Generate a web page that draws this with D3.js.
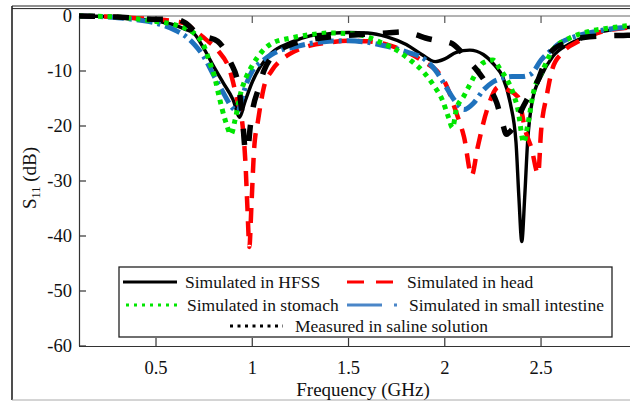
<!DOCTYPE html>
<html><head><meta charset="utf-8">
<script src="https://cdn.jsdelivr.net/npm/d3@7/dist/d3.min.js"></script>
<style>
html,body{margin:0;padding:0;background:#fff;}
svg{display:block;}
svg text{font-family:'Liberation Serif','DejaVu Serif',serif !important;fill:#111;}
</style></head>
<body>
<svg id="chart" width="630" height="403" font-family="Liberation Serif, DejaVu Serif, serif"></svg>
<script>
// ---- data ----
const xTicks = [0.5, 1, 1.5, 2, 2.5];
const yTicks = [0, -10, -20, -30, -40, -50, -60];
const seriesNames = ["Simulated in HFSS","Simulated in head","Simulated in stomach","Simulated in small intestine","Measured in saline solution"];

const hfssF = [0.1,0.2,0.3,0.4,0.5,0.6,0.65,0.7,0.75,0.8,0.85,0.9,0.935,0.96,1.0,1.04,1.1,1.2,1.3,1.4,1.5,1.6,1.7,1.8,1.88,1.95,2.0,2.06,2.13,2.2,2.26,2.3,2.34,2.37,2.385,2.4,2.415,2.43,2.455,2.5,2.56,2.64,2.7,2.8,2.9,3.0];
const hfssDb = [0,-0.05,-0.2,-0.5,-0.9,-1.7,-2.4,-3.3,-6,-9.2,-12.2,-15.2,-18.4,-15.8,-12,-9.3,-6.7,-4.8,-3.6,-3.2,-3,-3.1,-3.8,-5.2,-7,-8.3,-7.8,-6.6,-6.2,-7,-9,-11,-15.8,-23,-33,-41,-33,-23,-15.3,-11,-7.4,-5.2,-4.2,-3,-2.3,-1.9];

const headF = [0.1,0.2,0.3,0.4,0.5,0.6,0.66,0.71,0.76,0.82,0.886,0.92,0.95,0.965,0.975,0.985,0.995,1.01,1.03,1.06,1.1,1.15,1.2,1.3,1.4,1.5,1.6,1.7,1.8,1.9,1.96,2.0,2.06,2.1,2.14,2.17,2.22,2.28,2.33,2.38,2.42,2.45,2.485,2.5,2.53,2.56,2.61,2.7,2.8,2.9,3.0];
const headDb = [0,-0.05,-0.2,-0.4,-0.6,-1.0,-1.5,-2.9,-4.3,-6.2,-10.2,-15,-20,-27,-35,-42,-35,-24,-19,-13,-10,-8,-6.8,-5.4,-4.8,-4.5,-4.6,-5.2,-6.5,-8.5,-10,-12,-17.6,-22,-29,-24,-17,-12.9,-13.5,-14.7,-21,-24,-28.7,-21,-14.4,-9.5,-6.7,-4.5,-3,-2.3,-2];

const stomachF = [0.1,0.2,0.3,0.4,0.5,0.6,0.65,0.7,0.75,0.78,0.8,0.83,0.86,0.89,0.91,0.94,0.97,1.0,1.05,1.1,1.2,1.3,1.4,1.5,1.6,1.66,1.75,1.82,1.89,1.94,1.99,2.02,2.04,2.06,2.1,2.13,2.16,2.2,2.25,2.29,2.33,2.36,2.38,2.41,2.43,2.46,2.51,2.56,2.65,2.75,2.85,3.0];
const stomachDb = [0,-0.05,-0.2,-0.5,-1,-1.6,-2.2,-3.2,-5.5,-8.5,-10.5,-15,-19,-21.5,-19,-14,-11,-9,-6.5,-5,-4,-3.4,-3.1,-3.2,-3.8,-4.7,-6.2,-8,-10.2,-12.5,-15.5,-18.5,-20.3,-17,-14.5,-12.5,-10.5,-8.5,-8,-9.8,-12,-14.5,-17,-23,-20,-14,-9.8,-6.2,-4,-2.8,-2.2,-1.6];

const intestineF = [0.1,0.2,0.3,0.4,0.5,0.6,0.65,0.7,0.75,0.8,0.85,0.9,0.925,0.95,0.97,1.0,1.05,1.1,1.15,1.2,1.3,1.4,1.5,1.6,1.7,1.8,1.9,1.95,2.0,2.05,2.1,2.15,2.2,2.25,2.3,2.35,2.4,2.45,2.5,2.55,2.6,2.7,2.8,2.9,3.0];
const intestineDb = [0,-0.1,-0.3,-0.7,-1.3,-2.6,-3.6,-5.2,-7.5,-10.8,-14,-16.8,-17.3,-14.5,-12.3,-10,-8.3,-7,-6.2,-5.8,-5,-4.6,-4.5,-4.8,-5.5,-6.5,-8,-9.8,-12.5,-15.3,-17,-15.8,-13.5,-12,-11.3,-11,-11,-10.5,-8,-6.3,-4.9,-3.5,-2.7,-2.2,-2];

const salineF = [0.1,0.2,0.3,0.4,0.5,0.6,0.65,0.71,0.76,0.82,0.886,0.93,0.95,0.965,0.975,0.99,1.005,1.03,1.06,1.1,1.15,1.2,1.3,1.4,1.5,1.6,1.7,1.78,1.85,1.9,1.95,2.03,2.08,2.12,2.17,2.22,2.27,2.3,2.32,2.34,2.37,2.4,2.43,2.48,2.52,2.56,2.64,2.72,2.84,2.95,3.0];
const salineDb = [0,-0.05,-0.2,-0.4,-0.6,-0.6,-1.2,-3,-3.8,-4.6,-8.3,-13,-19,-24.5,-24.5,-20,-16.5,-13.5,-10,-7.5,-6,-5.2,-4.3,-3.8,-3.5,-3.3,-3.1,-2.9,-3.4,-4,-4.4,-4.9,-6.3,-8,-10,-12.5,-15.8,-19.5,-21.5,-21,-19.5,-17,-15,-12,-8.5,-6.2,-4.8,-3.9,-3.6,-3.5,-3.4];

// ---- layout ----
const FONT = "Liberation Serif, DejaVu Serif, serif";
const svg = d3.select("#chart");
const x = d3.scaleLinear().domain([0.1, 3]).range([79, 637.3]);
const y = d3.scaleLinear().domain([-60, 0]).range([346, 16]);

// figure border
svg.append("line").attr("x1",12).attr("x2",630).attr("y1",6).attr("y2",6).attr("stroke","#222").attr("stroke-width",1.2);
svg.append("line").attr("x1",12).attr("x2",630).attr("y1",8.6).attr("y2",8.6).attr("stroke","#222").attr("stroke-width",1);
svg.append("line").attr("x1",12).attr("x2",12).attr("y1",6).attr("y2",400).attr("stroke","#222").attr("stroke-width",1.6);
svg.append("line").attr("x1",12).attr("x2",630).attr("y1",400).attr("y2",400).attr("stroke","#aaa").attr("stroke-width",1);

svg.append("defs").append("clipPath").attr("id","clip")
  .append("rect").attr("x",79).attr("y",10).attr("width",560).attr("height",340);

// axes frame
const axisColor = "#333";
svg.append("line").attr("x1",79.5).attr("x2",79.5).attr("y1",16).attr("y2",346).attr("stroke",axisColor).attr("stroke-width",1.2);
svg.append("line").attr("x1",79).attr("x2",640).attr("y1",346.5).attr("y2",346.5).attr("stroke",axisColor).attr("stroke-width",1.2);
svg.append("line").attr("x1",79).attr("x2",640).attr("y1",16).attr("y2",16).attr("stroke","#666").attr("stroke-width",1);

function txt(sel){ return sel.attr("font-family",FONT).attr("fill","#111"); }

xTicks.forEach(t=>{
  svg.append("line").attr("x1",x(t)).attr("x2",x(t)).attr("y1",346).attr("y2",338).attr("stroke",axisColor).attr("stroke-width",1.2);
  svg.append("line").attr("x1",x(t)).attr("x2",x(t)).attr("y1",16).attr("y2",23).attr("stroke","#555").attr("stroke-width",1.2);
  txt(svg.append("text")).attr("x",x(t)).attr("y",374).attr("text-anchor","middle").attr("font-size",18.5).text(String(t));
});
yTicks.forEach(t=>{
  svg.append("line").attr("x1",79).attr("x2",86).attr("y1",y(t)).attr("y2",y(t)).attr("stroke",axisColor).attr("stroke-width",1.2);
  txt(svg.append("text")).attr("x",72).attr("y",y(t)).attr("dy","0.34em").attr("text-anchor","end").attr("font-size",18.5).text(t===0?"0":"-"+Math.abs(t));
});

// axis titles
txt(svg.append("text")).attr("x",363).attr("y",396).attr("text-anchor","middle").attr("font-size",19).text("Frequency (GHz)");
const yt = txt(svg.append("text")).attr("transform","translate(36,178) rotate(-90)").attr("text-anchor","middle").attr("font-size",19);
yt.append("tspan").text("S");
yt.append("tspan").attr("font-size",12.5).attr("dy",4).text("11");
yt.append("tspan").attr("dy",-4).text(" (dB)");

// series
const line = d3.line().x(d=>x(d[0])).y(d=>y(d[1])).curve(d3.curveMonotoneX);
const zip = (f,v)=>f.map((ff,i)=>[ff,v[i]]);
const g = svg.append("g").attr("clip-path","url(#clip)");
const styles = [
  {data:zip(hfssF,hfssDb), color:"#000", w:3.4, dash:null},
  {data:zip(headF,headDb), color:"#ff0000", w:4.5, dash:"15,10"},
  {data:zip(intestineF,intestineDb), color:"#1f72bd", w:5, dash:"16,5,3,5"},
  {data:zip(stomachF,stomachDb), color:"#00e600", w:5, dash:"4.5,5"},
  {data:zip(salineF,salineDb), color:"#000", w:5.5, dash:"16,18"}
];
styles.forEach(s=>{
  g.append("path").attr("d",line(s.data)).attr("fill","none").attr("stroke",s.color)
   .attr("stroke-width",s.w).attr("stroke-dasharray",s.dash).attr("stroke-linejoin","round");
});

// legend
const lg = svg.append("g");
lg.append("rect").attr("x",119).attr("y",267).attr("width",493).attr("height",70).attr("fill","#fff").attr("stroke","#222").attr("stroke-width",1.3);
const fs = 17.5;
function sample(x1,x2,yy,color,w,dash){
  lg.append("line").attr("x1",x1).attr("x2",x2).attr("y1",yy).attr("y2",yy).attr("stroke",color).attr("stroke-width",w).attr("stroke-dasharray",dash);
}
function label(xx,yy,t){ txt(lg.append("text")).attr("x",xx).attr("y",yy+6).attr("font-size",fs).text(t); }
sample(123,177,282,"#000",3,null);           label(185,282,seriesNames[0]);
sample(347,393,282,"#ff0000",3,"17,12");     label(407,282,seriesNames[1]);
sample(126,178,305,"#00e600",3,"3,5");       label(187,305,seriesNames[2]);
sample(347,397,305,"#4a86c8",3,"35,12,3,12");label(409,305,seriesNames[3]);
sample(230,283,326,"#000",3,"3,4.5");        label(295,326,seriesNames[4]);
</script>
</body></html>
